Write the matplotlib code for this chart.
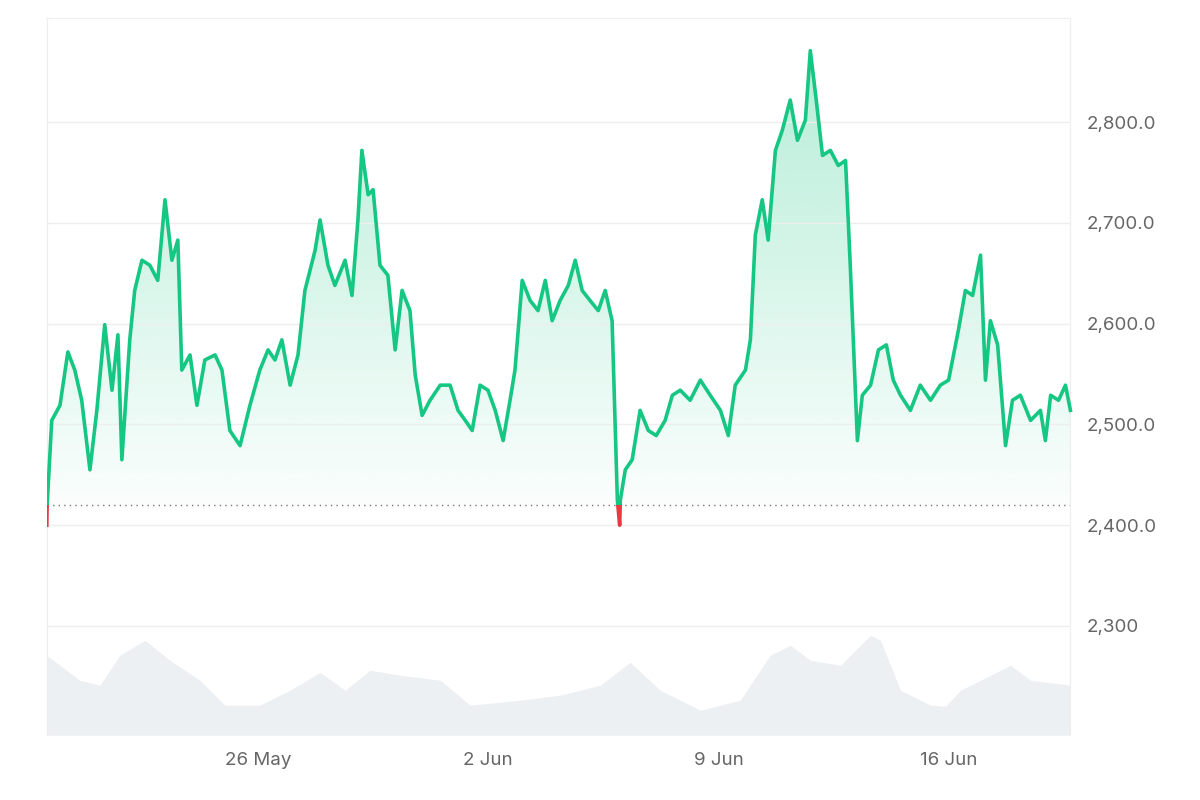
import matplotlib.pyplot as plt
import numpy as np
from matplotlib.patches import Rectangle, Polygon

plt.rcParams['font.family'] = 'Inter'

# day offsets from start (~19 May 14:00) and price
days = [0.00, 0.01, 0.15, 0.40, 0.64, 0.85, 1.06, 1.31, 1.52, 1.76, 1.98, 2.16, 2.28, 2.52, 2.67, 2.89, 3.13, 3.37,
        3.59, 3.80, 3.98, 4.10, 4.35, 4.56, 4.80, 5.11, 5.32, 5.56, 5.87, 6.17, 6.47, 6.72, 6.93, 7.14, 7.39,
        7.63, 7.84, 8.15, 8.30, 8.54, 8.75, 9.06, 9.27, 9.45, 9.57, 9.76, 9.91, 10.12, 10.36, 10.58, 10.79,
        11.03, 11.19, 11.40, 11.64, 11.95, 12.25, 12.49, 12.71, 12.92, 13.16, 13.40, 13.62, 13.86, 14.07,
        14.22, 14.44, 14.68, 14.92, 15.14, 15.35, 15.59, 15.84, 16.05, 16.26, 16.50, 16.75, 16.96, 17.17,
        17.33, 17.40, 17.42, 17.57, 17.78, 18.02, 18.27, 18.51, 18.78, 19.00, 19.24, 19.54, 19.85, 20.15,
        20.46, 20.70, 20.91, 21.22, 21.37, 21.52, 21.73, 21.91, 22.13, 22.34, 22.58, 22.80, 23.04, 23.19,
        23.37, 23.56, 23.80, 24.04, 24.26, 24.41, 24.62, 24.77, 25.02, 25.26, 25.50, 25.71, 25.93, 26.23,
        26.53, 26.84, 27.14, 27.39, 27.69, 27.90, 28.12, 28.36, 28.51, 28.66, 28.88, 29.12, 29.33, 29.57,
        29.88, 30.18, 30.33, 30.49, 30.73, 30.94, 31.09]
price = [2400, 2420, 2504, 2519, 2572, 2554, 2524, 2455, 2514, 2599, 2534, 2589, 2465, 2584, 2633, 2663, 2658,
         2643, 2723, 2663, 2683, 2554, 2569, 2519, 2564, 2569, 2554, 2494, 2479, 2519, 2554, 2574, 2564,
         2584, 2539, 2569, 2633, 2673, 2703, 2658, 2638, 2663, 2628, 2703, 2772, 2728, 2733, 2658, 2648,
         2574, 2633, 2613, 2549, 2509, 2524, 2539, 2539, 2514, 2504, 2494, 2539, 2534, 2514, 2484, 2524,
         2554, 2643, 2623, 2613, 2643, 2603, 2623, 2638, 2663, 2633, 2623, 2613, 2633, 2603, 2425, 2400,
         2425, 2455, 2465, 2514, 2494, 2489, 2504, 2529, 2534, 2524, 2544, 2529, 2514, 2489, 2539, 2554,
         2584, 2688, 2723, 2683, 2772, 2792, 2822, 2782, 2802, 2871, 2822, 2767, 2772, 2757, 2762, 2653,
         2484, 2529, 2539, 2574, 2579, 2544, 2529, 2514, 2539, 2524, 2539, 2544, 2594, 2633, 2628, 2668,
         2544, 2603, 2579, 2479, 2524, 2529, 2504, 2514, 2484, 2529, 2524, 2539, 2514]

vol_days = [0.0, 1.0, 1.61, 2.22, 2.98, 3.74, 4.65, 5.41, 6.47, 7.39, 8.30, 9.06, 9.82, 10.73, 11.95, 12.86,
            14.38, 15.59, 16.81, 17.72, 18.63, 19.85, 21.06, 21.97, 22.58, 23.19, 24.11, 25.02, 25.32, 25.93,
            26.84, 27.30, 27.75, 28.66, 29.27, 29.88, 31.09]
volume = [80, 55, 50, 80, 95, 75, 55, 30, 30, 45, 63, 45, 65, 60, 55, 30, 35, 40, 50, 73, 45, 25, 35, 80,
          90, 75, 70, 100, 95, 45, 30, 29, 45, 60, 70, 55, 50]

baseline = 2420
tick_pos = [6.41, 13.40, 20.40, 27.39]
tick_lab = ['26 May', '2 Jun', '9 Jun', '16 Jun']
yticks = [2300, 2400, 2500, 2600, 2700, 2800]
ylabs = ['2,300', '2,400.0', '2,500.0', '2,600.0', '2,700.0', '2,800.0']

green = '#16c784'
red = '#ea3943'

fig = plt.figure(figsize=(12, 8), dpi=100)
ax = fig.add_axes([0.039, 0.081, 0.853, 0.896])
ymin, ymax = 2191.6, 2903
xmax = days[-1]

# volume on a twin axis, aligned to the bottom
axv = ax.twinx()
axv.fill_between(vol_days, volume, 0, color='#edf0f3', lw=0, zorder=0)
axv.set_ylim(0, 717)
axv.set_yticks([])
axv.set_zorder(0)
ax.set_zorder(1)
ax.patch.set_visible(False)

# gradient fill under the price line, down to the baseline
verts = [(days[0], baseline)] + [(d, max(p, baseline)) for d, p in zip(days, price)] + [(days[-1], baseline)]
poly = Polygon(verts, closed=True, facecolor='none', edgecolor='none', transform=ax.transData)
ax.add_patch(poly)
grad = np.linspace(0.32, 0.02, 256)
img = np.zeros((256, 1, 4))
img[..., :3] = np.array([0x16, 0xc7, 0x84]) / 255
img[..., 3] = grad.reshape(-1, 1)
im = ax.imshow(img, extent=[0, xmax, baseline, 2880], aspect='auto', zorder=1, origin='upper')
im.set_clip_path(poly)

l1, = ax.plot(days, price, color=green, lw=2.6, zorder=3, solid_joinstyle='round')
l1.set_clip_path(Rectangle((0, baseline), 100, 1000, transform=ax.transData))
l2, = ax.plot(days, price, color=red, lw=2.6, zorder=3)
l2.set_clip_path(Rectangle((0, 2000), 100, baseline - 2000, transform=ax.transData))

ax.axhline(baseline, color='#777777', lw=1, ls=(0, (1, 3)), zorder=2)

ax.set_xlim(0, xmax)
ax.set_ylim(ymin, ymax)
ax.set_yticks(yticks)
ax.set_yticklabels(ylabs)
ax.yaxis.tick_right()
ax.set_xticks(tick_pos)
ax.set_xticklabels(tick_lab)
ax.tick_params(length=0, labelsize=13.5, colors='#666666', pad=12)
ax.grid(axis='y', color='#eeeeee', lw=1)
for s in ['left', 'top', 'right']:
    ax.spines[s].set_color('#eeeeee')
    axv.spines[s].set_color('#eeeeee')
ax.spines['bottom'].set_visible(False)
axv.spines['bottom'].set_visible(False)

fig.savefig('out.png')
